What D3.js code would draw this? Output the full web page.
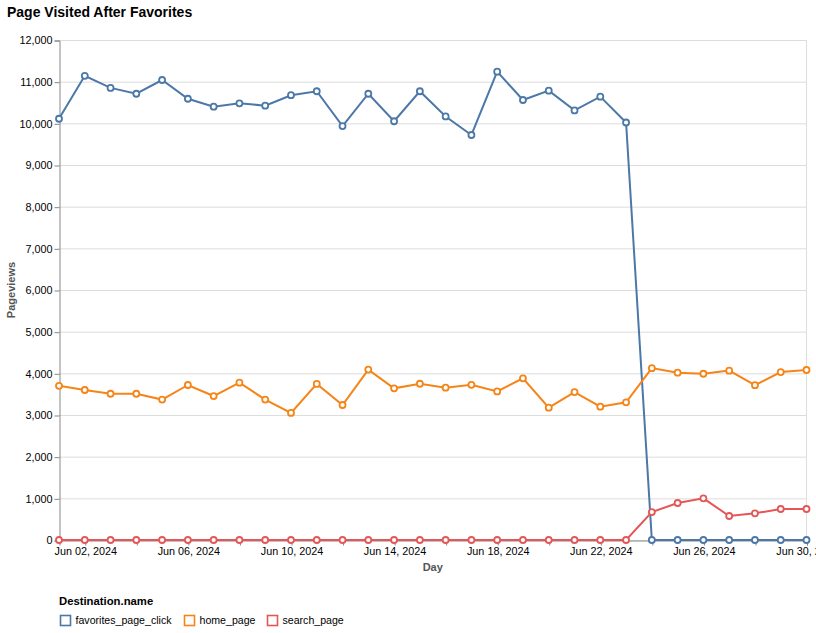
<!DOCTYPE html>
<html>
<head>
<meta charset="utf-8">
<script src="https://cdn.jsdelivr.net/npm/d3@7"></script>
<style>
  html, body { margin: 0; padding: 0; background: #fff; }
  svg { display: block; font-family: "Liberation Sans", Arial, Helvetica, sans-serif; }
</style>
</head>
<body>
<svg id="chart" width="816" height="633"></svg>
<script>
// ---- Data ----
const days = d3.range(1, 31).map(d => new Date(2024, 5, d));
const seriesNames = ["favorites_page_click", "home_page", "search_page"];
const favoritesValues = [10110, 11140, 10850, 10710, 11040, 10590, 10400, 10480, 10425, 10675,
  10770, 9935, 10710, 10050, 10770, 10165, 9720, 11240, 10560, 10785,
  10310, 10640, 10020, 0, 0, 0, 0, 0, 0, 0];
const homeValues = [3700, 3600, 3510, 3510, 3370, 3720, 3455, 3775, 3370, 3050,
  3745, 3240, 4090, 3640, 3750, 3655, 3725, 3565, 3880, 3175,
  3550, 3200, 3305, 4125, 4015, 3990, 4065, 3715, 4030, 4080];
const searchValues = [0, 0, 0, 0, 0, 0, 0, 0, 0, 0,
  0, 0, 0, 0, 0, 0, 0, 0, 0, 0,
  0, 0, 0, 670, 888, 1000, 576, 640, 744, 744];
const seriesColors = ["#4c78a8", "#f58518", "#e45756"];
const yTicks = d3.range(0, 12001, 1000);
const chartTitle = "Page Visited After Favorites";
const xTitle = "Day";
const yTitle = "Pageviews";
const legendTitle = "Destination.name";

(function () {
const series = [
  { name: seriesNames[0], values: favoritesValues, color: seriesColors[0] },
  { name: seriesNames[1], values: homeValues, color: seriesColors[1] },
  { name: seriesNames[2], values: searchValues, color: seriesColors[2] }
];

// ---- Layout ----
const svg = d3.select("#chart");
const pLeft = 59, pRight = 806.5, pTop = 40, pBottom = 540;

const x = d3.scaleTime().domain([days[0], days[days.length - 1]]).range([pLeft, pRight]);
const y = d3.scaleLinear().domain([0, 12000]).range([pBottom, pTop]);

// Title
svg.append("text")
  .attr("x", 7).attr("y", 16.5)
  .attr("font-size", 14).attr("font-weight", "bold").attr("fill", "#000")
  .text(chartTitle);

// Gridlines
svg.append("g")
  .selectAll("line").data(yTicks).join("line")
  .attr("x1", pLeft).attr("x2", pRight)
  .attr("y1", d => y(d) + 0.5).attr("y2", d => y(d) + 0.5)
  .attr("stroke", "#ddd").attr("stroke-width", 1);

// View border (right side)
svg.append("line")
  .attr("x1", pRight).attr("x2", pRight).attr("y1", pTop).attr("y2", pBottom)
  .attr("stroke", "#ddd");

// Y axis
const yAxis = d3.axisLeft(y).tickValues(yTicks).tickFormat(d3.format(",")).tickSize(5).tickPadding(2);
const yg = svg.append("g").attr("transform", `translate(${pLeft + 0.5},0.5)`).call(yAxis);
yg.select(".domain").attr("stroke", "#888");
yg.selectAll(".tick line").attr("stroke", "#888");
yg.selectAll(".tick text").attr("font-size", 10.8).attr("fill", "#000")
  .attr("font-family", "Liberation Sans, Arial, sans-serif");

// X axis
const xTickDates = d3.timeDay.range(new Date(2024, 5, 2), new Date(2024, 6, 1), 2);
const labelFmt = d3.timeFormat("%b %d, %Y");
const xAxis = d3.axisBottom(x).tickValues(xTickDates)
  .tickFormat((d, i) => i % 2 === 0 ? labelFmt(d) : "")
  .tickSize(5).tickPadding(2);
const xg = svg.append("g").attr("transform", `translate(0.5,${pBottom + 0.5})`).call(xAxis);
xg.select(".domain").attr("stroke", "#888");
xg.selectAll(".tick line").attr("stroke", "#888");
xg.selectAll(".tick text").attr("font-size", 10.8).attr("fill", "#000")
  .attr("font-family", "Liberation Sans, Arial, sans-serif");

// Axis titles
svg.append("text")
  .attr("transform", `translate(15,${(pTop + pBottom) / 2}) rotate(-90)`)
  .attr("text-anchor", "middle")
  .attr("font-size", 11).attr("font-weight", "bold").attr("fill", "#555")
  .text(yTitle);
svg.append("text")
  .attr("x", (pLeft + pRight) / 2).attr("y", 571)
  .attr("text-anchor", "middle")
  .attr("font-size", 11).attr("font-weight", "bold").attr("fill", "#555")
  .text(xTitle);

// Lines & points
const line = d3.line().x((d, i) => x(days[i])).y(d => y(d));
const marks = svg.append("g");
series.forEach(s => {
  const g = marks.append("g");
  g.append("path")
    .attr("d", line(s.values))
    .attr("fill", "none").attr("stroke", s.color).attr("stroke-width", 2);
  g.selectAll("circle").data(s.values).join("circle")
    .attr("cx", (d, i) => x(days[i])).attr("cy", d => y(d))
    .attr("r", 3)
    .attr("fill", "#fff").attr("stroke", s.color).attr("stroke-width", 1.8);
});

// Legend
svg.append("text")
  .attr("x", 59).attr("y", 605)
  .attr("font-size", 11.3).attr("font-weight", "bold").attr("fill", "#000")
  .text(legendTitle);
const legendX = [59.5, 183.5, 266.5];
const lg = svg.append("g");
series.forEach((s, i) => {
  lg.append("rect")
    .attr("x", legendX[i] + 1).attr("y", 615.5)
    .attr("width", 10).attr("height", 10)
    .attr("fill", "none").attr("stroke", s.color).attr("stroke-width", 1.6);
  lg.append("text")
    .attr("x", legendX[i] + 16).attr("y", 624)
    .attr("font-size", 10.6).attr("fill", "#000")
    .text(s.name);
});
})();
</script>
</body>
</html>
